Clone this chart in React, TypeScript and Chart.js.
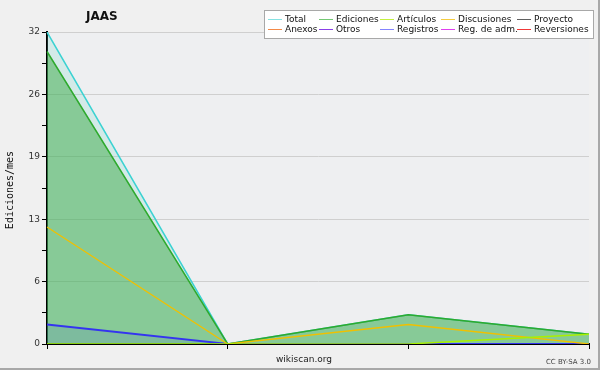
import React, { useEffect, useRef } from "react";
import { Chart, registerables } from "chart.js";

Chart.register(...registerables);

const categories = ["1", "2", "3", "4"];
const totalValues = [32, 0, 3, 1];
const edicionesValues = [30, 0, 3, 1];
const articulosValues = [0, 0, 0, 1];
const discusionesValues = [12, 0, 2, 0];
const registrosValues = [2, 0, 0, 0];
const yTickValues = [0, 3.2, 6.4, 9.6, 12.8, 16, 19.2, 22.4, 25.6, 28.8, 32];

const legendRows = [
  [
    { label: "Total", color: "#86e2e2" },
    { label: "Ediciones", color: "#74c874" },
    { label: "Artículos", color: "#c4f040" },
    { label: "Discusiones", color: "#f4cc40" },
    { label: "Proyecto", color: "#606060" },
  ],
  [
    { label: "Anexos", color: "#f48a48" },
    { label: "Otros", color: "#8a40e8" },
    { label: "Registros", color: "#8484ff" },
    { label: "Reg. de adm.", color: "#e040f0" },
    { label: "Reversiones", color: "#f03838" },
  ],
];

const legendColX = [268, 319, 380, 441, 517];

const decorPlugin = {
  id: "decor",
  beforeDraw(chart: any) {
    const { ctx, chartArea } = chart;
    ctx.save();
    ctx.fillStyle = "#f0f0f0";
    ctx.fillRect(0, 0, chart.width, chart.height);
    ctx.fillStyle = "#eeeff1";
    ctx.fillRect(chartArea.left, chartArea.top, chartArea.right - chartArea.left, chartArea.bottom - chartArea.top);
    ctx.restore();
  },
  afterDraw(chart: any) {
    const { ctx } = chart;
    ctx.save();
    // title
    ctx.fillStyle = "#111";
    ctx.font = "bold 12px 'DejaVu Sans'";
    ctx.textBaseline = "middle";
    ctx.textAlign = "left";
    ctx.fillText("JAAS", 86, 17);
    // y label
    ctx.save();
    ctx.translate(10, 190);
    ctx.rotate(-Math.PI / 2);
    ctx.textAlign = "center";
    ctx.font = "10px 'DejaVu Sans Mono'";
    ctx.fillStyle = "#111";
    ctx.fillText("Ediciones/mes", 0, 0);
    ctx.restore();
    // footer
    ctx.font = "9px 'DejaVu Sans'";
    ctx.fillStyle = "#222";
    ctx.textAlign = "center";
    ctx.fillText("wikiscan.org", 304, 360);
    ctx.font = "7px 'DejaVu Sans'";
    ctx.fillStyle = "#444";
    ctx.textAlign = "right";
    ctx.fillText("CC BY-SA 3.0", 591, 362);
    // legend box
    ctx.fillStyle = "#ffffff";
    ctx.fillRect(264.5, 10.5, 329, 28);
    ctx.strokeStyle = "#a8a8a8";
    ctx.lineWidth = 1;
    ctx.strokeRect(264.5, 10.5, 329, 28);
    ctx.font = "9px 'DejaVu Sans'";
    ctx.textAlign = "left";
    ctx.textBaseline = "middle";
    legendRows.forEach((row, r) => {
      const y = 19.5 + r * 10;
      row.forEach((item, c) => {
        const x = legendColX[c];
        ctx.strokeStyle = item.color;
        ctx.lineWidth = 1;
        ctx.beginPath();
        ctx.moveTo(x, y);
        ctx.lineTo(x + 14, y);
        ctx.stroke();
        ctx.fillStyle = "#111";
        ctx.fillText(item.label, x + 17, y);
      });
    });
    // outer border
    ctx.fillStyle = "#a8a8a8";
    ctx.fillRect(598, 0, 2, 370);
    ctx.fillRect(0, 368, 600, 2);
    ctx.restore();
  },
};

export default function App() {
  const ref = useRef<HTMLCanvasElement>(null);
  useEffect(() => {
    document.body.style.margin = "0";
    const chart = new Chart(ref.current as HTMLCanvasElement, {
      type: "line",
      data: {
        labels: categories,
        datasets: [
          {
            label: "Total",
            data: totalValues,
            borderColor: "#3cd2d2",
            backgroundColor: "rgba(120,220,200,0.22)",
            fill: "origin",
            borderWidth: 1.5,
            order: 5,
          },
          {
            label: "Ediciones",
            data: edicionesValues,
            borderColor: "#2eaa2e",
            backgroundColor: "rgba(60,170,70,0.5)",
            fill: "origin",
            borderWidth: 1.5,
            order: 4,
          },
          {
            label: "Registros",
            data: registrosValues,
            borderColor: "#3434f0",
            backgroundColor: "rgba(40,60,230,0.1)",
            fill: "origin",
            borderWidth: 1.8,
            order: 3,
          },
          {
            label: "Discusiones",
            data: discusionesValues,
            borderColor: "#f0c000",
            fill: false,
            borderWidth: 1.3,
            order: 2,
          },
          {
            label: "Artículos",
            data: articulosValues,
            borderColor: "#a8f000",
            fill: false,
            borderWidth: 1.5,
            order: 1,
          },
        ],
      },
      options: {
        animation: false,
        responsive: false,
        maintainAspectRatio: false,
        layout: { padding: { top: 32, left: 0, right: 11, bottom: 0 } },
        elements: { point: { radius: 0 }, line: { tension: 0 } },
        plugins: { legend: { display: false }, tooltip: { enabled: false }, title: { display: false } },
        scales: {
          x: {
            type: "category",
            offset: false,
            grid: { drawOnChartArea: false, drawTicks: true, tickLength: 5, color: "#000", tickColor: "#000" },
            border: { color: "#000", width: 2 },
            ticks: { display: false },
            afterFit: (s: any) => { s.height = 26; },
          },
          y: {
            min: 0,
            max: 32,
            afterBuildTicks: (s: any) => { s.ticks = yTickValues.map((v) => ({ value: v })); },
            ticks: {
              autoSkip: false,
              color: "#333",
              font: { family: "'DejaVu Sans'", size: 9 },
              padding: 2,
              callback: (v: any, i: number) => (i % 2 === 0 ? String(Math.round(Number(v))) : ""),
            },
            grid: {
              color: (c: any) => (c.index % 2 === 0 ? "#cfcfcf" : "rgba(0,0,0,0)"),
              tickColor: "#000",
              tickLength: 5,
              lineWidth: 1,
            },
            border: { color: "#000", width: 2 },
            afterFit: (s: any) => { s.width = 47; },
          },
        },
      },
      plugins: [decorPlugin],
    } as any);
    return () => chart.destroy();
  }, []);
  return (
    <div style={{ position: "fixed", left: 0, top: 0, width: 600, height: 370 }}>
      <canvas ref={ref} width={600} height={370} style={{ width: 600, height: 370 }} />
    </div>
  );
}
